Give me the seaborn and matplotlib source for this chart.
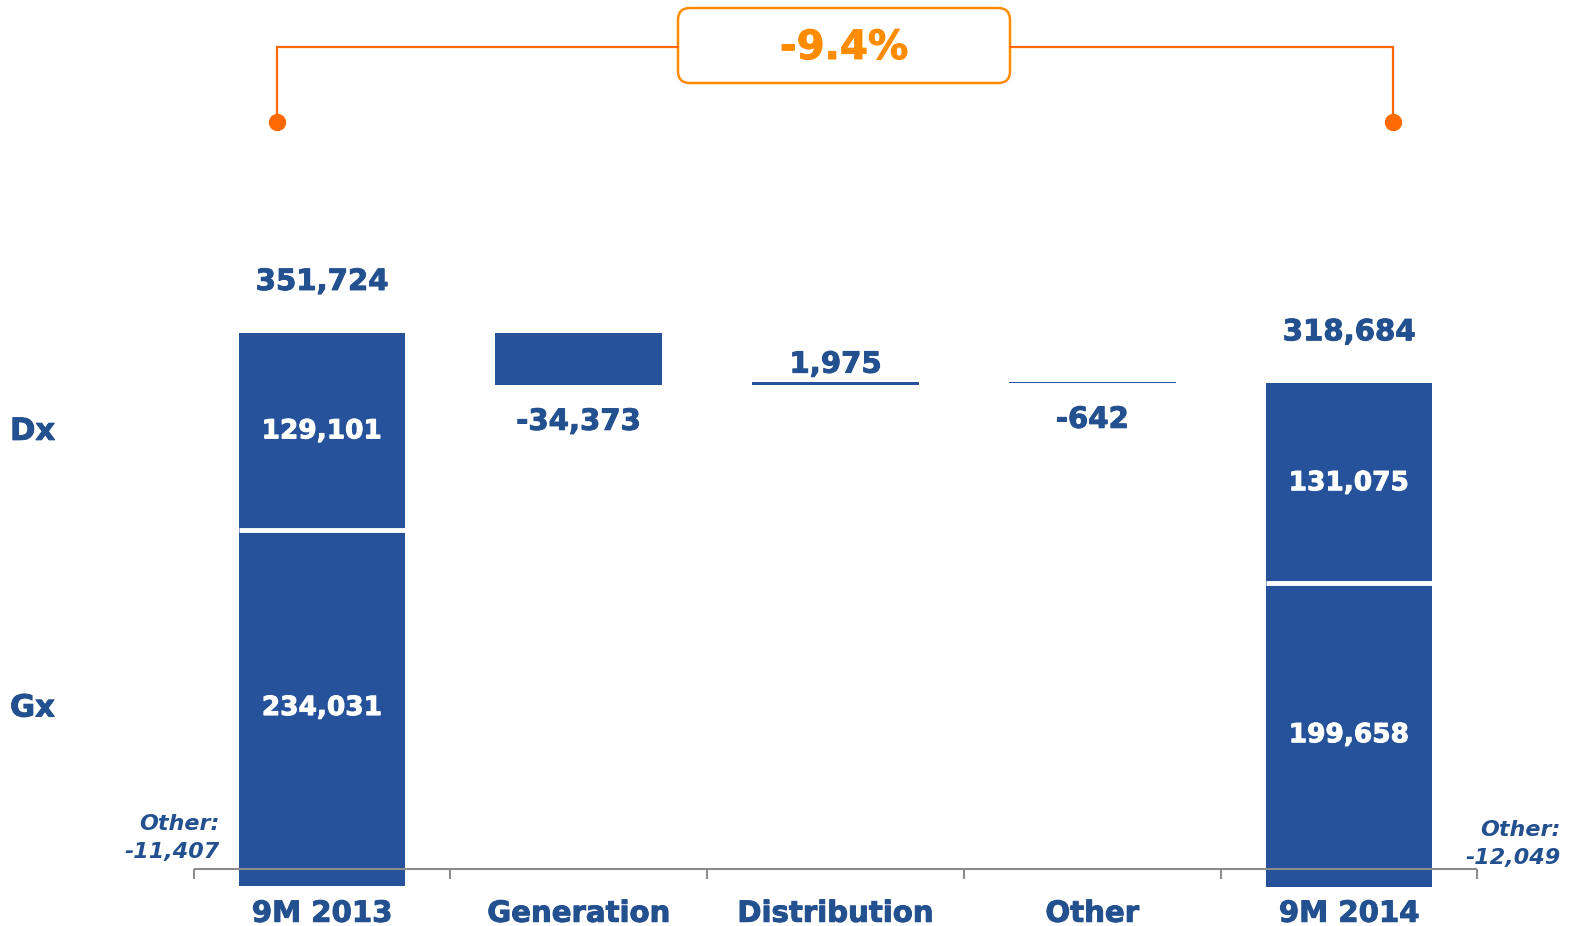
import matplotlib
matplotlib.use("Agg")
import matplotlib.pyplot as plt
import matplotlib.patheffects as pe
import matplotlib.transforms as mtransforms
from matplotlib.patches import FancyBboxPatch
import numpy as np
import seaborn as sns

# Data
categories = ["9M 2013", "Generation", "Distribution", "Other", "9M 2014"]
ends = ["9M 2013", "9M 2014"]
gx_values = [234031, 199658]
dx_values = [129101, 131075]
other_values = [-11407, -12049]
total_values = [351724, 318684]
steps = ["Generation", "Distribution", "Other"]
step_values = [-34373, 1975, -642]

# Colours
blue = "#25529A"
text_blue = "#23508F"
line_orange = "#FF6A00"
box_orange = "#FF8C00"
axis_gray = "#8C8C8C"

# waterfall bottoms/heights
step_bottoms, step_heights = [], []
running = total_values[0]
for v in step_values:
    step_bottoms.append(min(running, running + v))
    step_heights.append(abs(v))
    running += v
gx_tops = np.add(gx_values, other_values)

W, H = 1573, 926
sns.set_theme(style="white")
plt.rcParams["font.family"] = ["DejaVu Sans"]
fig = plt.figure(figsize=(W / 100, H / 100), dpi=100)
ax = fig.add_axes([0, 0, 1, 1])
pix = mtransforms.Affine2D().scale(1 / W, -1 / H).translate(0, 1) + fig.transFigure

# heavier glyphs, a bit closer to the original Verdana bold
def heavy(col):
    return [pe.withStroke(linewidth=0.7, foreground=col)]

bar_w = 0.65
common = dict(order=categories, color=blue, saturation=1, width=bar_w,
              errorbar=None, ax=ax, linewidth=0)
sns.barplot(x=ends, y=gx_values, bottom=other_values, **common)
sns.barplot(x=ends, y=dx_values, bottom=gx_tops, **common)
sns.barplot(x=steps, y=step_heights, bottom=step_bottoms, **common)

# axis scaling: zero at pixel 869, first total at pixel 333
scale = (869 - 333) / total_values[0]
ax.set_ylim(-(H - 869) / scale, 869 / scale)
ax.set_xlim(-322 / 256.75, (W - 322) / 256.75)
ax.axis("off")

end_x = [categories.index(c) for c in ends]
step_x = [categories.index(c) for c in steps]

# white separator between Gx and Dx
ax.hlines(gx_tops, np.array(end_x) - bar_w / 2, np.array(end_x) + bar_w / 2,
          color="white", lw=3.5, zorder=3)

# baseline with tick marks between categories
ax.hlines(0, -0.5, len(categories) - 0.5, color=axis_gray, lw=1.5, zorder=4)
ax.plot(np.arange(-0.5, len(categories)), np.zeros(len(categories) + 1),
        linestyle="none", marker=3, markersize=7.5, mew=1.5, color=axis_gray, zorder=4)

# category labels
for i, c in enumerate(categories):
    ax.annotate(c, (i, 0), xytext=(0, -38), textcoords="offset points",
                ha="center", va="baseline", fontsize=21, fontweight="bold",
                color=text_blue, annotation_clip=False, path_effects=heavy(text_blue))

# totals and inner labels
for x, gx, dx, oth, tot in zip(end_x, gx_values, dx_values, other_values, total_values):
    top = gx + dx + oth
    ax.annotate(f"{tot:,}", (x, top), xytext=(0, 31), textcoords="offset points",
                ha="center", va="baseline", fontsize=21, fontweight="bold", color=text_blue,
                path_effects=heavy(text_blue))
    ax.text(x, oth + gx / 2, f"{gx:,}", ha="center", va="center",
            fontsize=19, fontweight="bold", color="white", zorder=5,
            path_effects=heavy("white"))
    ax.text(x, oth + gx + dx / 2, f"{dx:,}", ha="center", va="center",
            fontsize=19, fontweight="bold", color="white", zorder=5,
            path_effects=heavy("white"))

# step labels
for x, b, h, v in zip(step_x, step_bottoms, step_heights, step_values):
    if v >= 0:
        ax.annotate(f"{v:,}", (x, b + h), xytext=(0, 7), textcoords="offset points",
                    ha="center", va="baseline", fontsize=21, fontweight="bold",
                    color=text_blue, path_effects=heavy(text_blue))
    else:
        ax.annotate(f"{v:,}", (x, b), xytext=(0, -32), textcoords="offset points",
                    ha="center", va="baseline", fontsize=21, fontweight="bold",
                    color=text_blue, path_effects=heavy(text_blue))

# row labels
ax.text(-1.215, other_values[0] + gx_values[0] + dx_values[0] / 2, "Dx", ha="left",
        va="center", fontsize=22, fontweight="bold", color=text_blue,
        path_effects=heavy(text_blue))
ax.text(-1.215, other_values[0] + gx_values[0] / 2, "Gx", ha="left",
        va="center", fontsize=22, fontweight="bold", color=text_blue,
        path_effects=heavy(text_blue))

# "Other" notes
ax.text(220, 838, f"Other:\n{other_values[0]:,}", transform=pix, ha="right", va="center",
        fontsize=16, fontweight="bold", fontstyle="italic", color=text_blue, linespacing=1.5)
ax.text(1561, 844, f"Other:\n{other_values[1]:,}", transform=pix, ha="right", va="center",
        fontsize=16, fontweight="bold", fontstyle="italic", color=text_blue, linespacing=1.5)

# change bracket
ax.plot([277, 277, 678], [122, 47, 47], color=line_orange, lw=1.6, transform=pix,
        solid_joinstyle="miter")
ax.plot([1010, 1393, 1393], [47, 47, 122], color=line_orange, lw=1.6, transform=pix,
        solid_joinstyle="miter")
ax.plot([277, 1393], [122, 122], linestyle="none", marker="o", markersize=11.5,
        color=line_orange, transform=pix)
box = FancyBboxPatch((678, 8), 332, 75, boxstyle="round,pad=0,rounding_size=12",
                     transform=pix, facecolor="white", edgecolor=box_orange, lw=1.8)
ax.add_patch(box)
change = total_values[1] / total_values[0] - 1
ax.text(844, 48, f"{change:.1%}", transform=pix, ha="center", va="center",
        fontsize=29, fontweight="bold", color=box_orange, path_effects=heavy(box_orange))

fig.savefig("out.png", dpi=100)
